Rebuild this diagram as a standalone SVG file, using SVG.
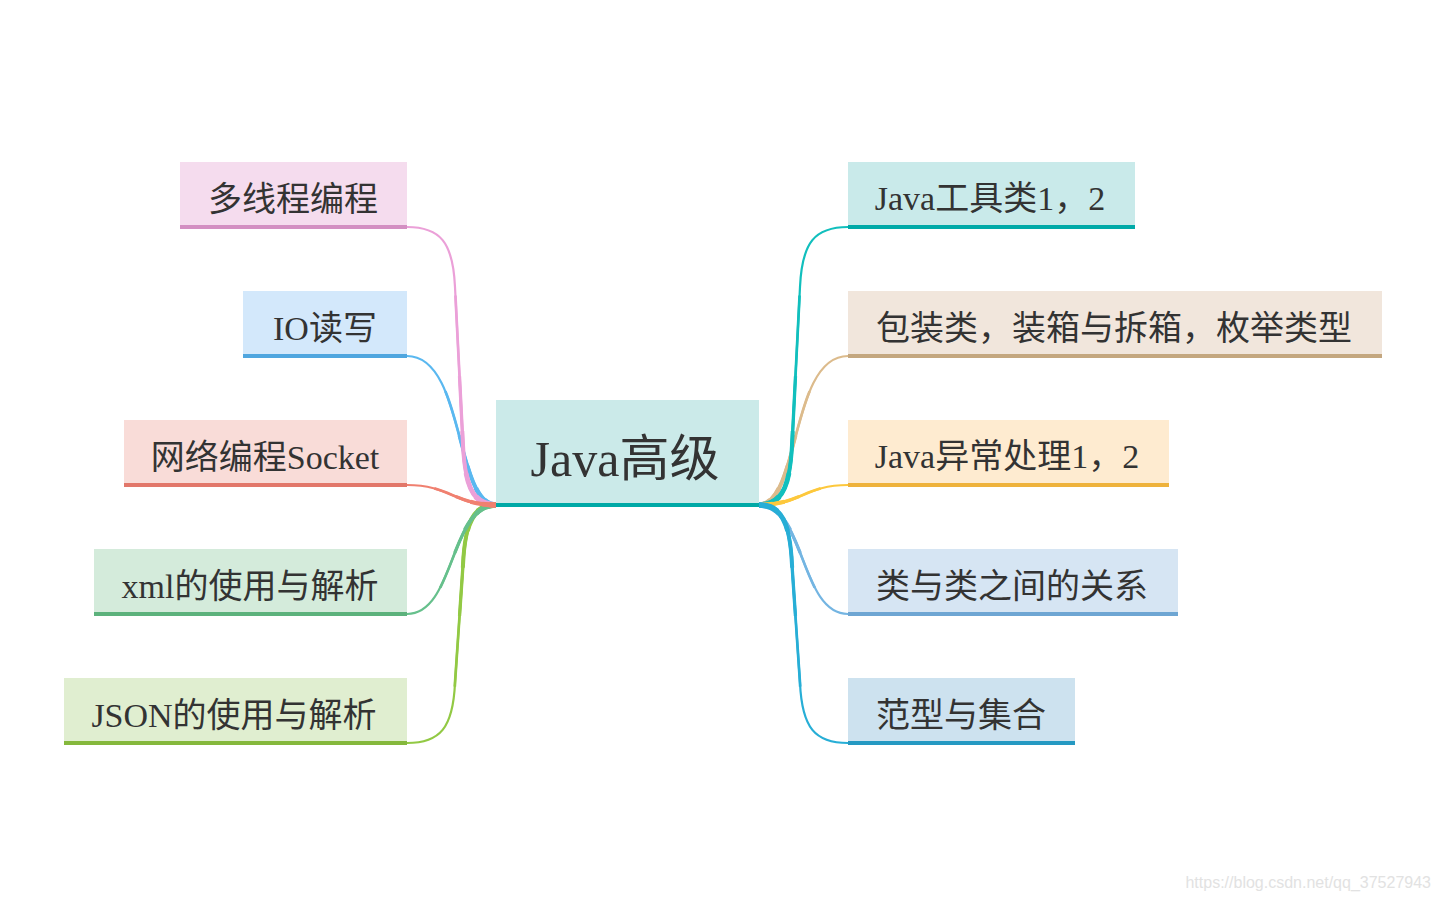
<svg xmlns="http://www.w3.org/2000/svg" width="1440" height="900" viewBox="0 0 1440 900">
<style>
  text { font-family: "Liberation Serif", "Noto Sans CJK SC", serif; fill: #333333; text-anchor: middle; }
  .t { font-size: 34px; }
  .tc { font-size: 50px; }
  .wm { font-family: "Liberation Sans", Arial, sans-serif; font-size: 16px; fill: #e2e2e2; text-anchor: end; }
  .cn { fill: none; stroke-linecap: butt; }
  .w1 { stroke-width: 2.2; }
  .w2 { stroke-width: 2.7; stroke-dasharray: 0 30 70 0; }
  .w3 { stroke-width: 3.3; stroke-dasharray: 0 55 45 0; }
  .w4 { stroke-width: 4; stroke-dasharray: 0 72 28 0; }
  .w5 { stroke-width: 4.8; stroke-dasharray: 0 85 15 0; }
  .w6 { stroke-width: 5.6; stroke-dasharray: 0 93 7 0; }
</style>
<defs>
  <path id="p1" pathLength="100" d="M407,227 C440,227 453,242 455,287 L463,445 C465,490 475,505 496,505"/>
  <path id="p2" pathLength="100" d="M407,356 C465,356 455,505 496,505"/>
  <path id="p3" pathLength="100" d="M407,485 C450,485 455,505 496,505"/>
  <path id="p4" pathLength="100" d="M407,614 C455,614 450,505 496,505"/>
  <path id="p5" pathLength="100" d="M407,743 C440,743 453,728 455,683 L463,565 C465,520 475,505 496,505"/>
  <g id="c1"><use href="#p1" class="w1"/><use href="#p1" class="w2"/><use href="#p1" class="w3"/><use href="#p1" class="w4"/><use href="#p1" class="w5"/><use href="#p1" class="w6"/></g>
  <g id="c2"><use href="#p2" class="w1"/><use href="#p2" class="w2"/><use href="#p2" class="w3"/><use href="#p2" class="w4"/><use href="#p2" class="w5"/><use href="#p2" class="w6"/></g>
  <g id="c3"><use href="#p3" class="w1"/><use href="#p3" class="w2"/><use href="#p3" class="w3"/><use href="#p3" class="w4"/><use href="#p3" class="w5"/><use href="#p3" class="w6"/></g>
  <g id="c4"><use href="#p4" class="w1"/><use href="#p4" class="w2"/><use href="#p4" class="w3"/><use href="#p4" class="w4"/><use href="#p4" class="w5"/><use href="#p4" class="w6"/></g>
  <g id="c5"><use href="#p5" class="w1"/><use href="#p5" class="w2"/><use href="#p5" class="w3"/><use href="#p5" class="w4"/><use href="#p5" class="w5"/><use href="#p5" class="w6"/></g>
</defs>
<rect width="1440" height="900" fill="#ffffff"/>

<g id="connectors" class="cn">
  <use href="#c2" stroke="#5ab8f0"/>
  <use href="#c1" stroke="#eba0d8"/>
  <use href="#c5" stroke="#92c944"/>
  <use href="#c4" stroke="#66c08c"/>
  <use href="#c3" stroke="#f08070"/>
  <g transform="matrix(-1 0 0 1 1255 0)">
    <use href="#c2" stroke="#dcbb8c"/>
    <use href="#c1" stroke="#11bfbd"/>
    <use href="#c3" stroke="#fdc83c"/>
    <use href="#c4" stroke="#74b5e2"/>
    <use href="#c5" stroke="#27aed6"/>
  </g>
</g>

<g id="center">
  <rect x="496" y="400" width="263" height="105" fill="#cbeae9"/>
  <rect x="496" y="503" width="263" height="4" fill="#00a9a6"/>
  <text class="tc" x="625" y="476">Java高级</text>
</g>

<g id="n-duoxiancheng">
  <rect x="180" y="162" width="227" height="65" fill="#f5dcee"/>
  <rect x="180" y="225" width="227" height="4" fill="#d38fc2"/>
  <text class="t" x="293" y="211">多线程编程</text>
</g>
<g id="n-io">
  <rect x="243" y="291" width="164" height="65" fill="#d3e8fb"/>
  <rect x="243" y="354" width="164" height="4" fill="#4fa6df"/>
  <text class="t" x="325" y="340">IO读写</text>
</g>
<g id="n-socket">
  <rect x="124" y="420" width="283" height="65" fill="#f9dcd8"/>
  <rect x="124" y="483" width="283" height="4" fill="#e2776a"/>
  <text class="t" x="265" y="469">网络编程Socket</text>
</g>
<g id="n-xml">
  <rect x="94" y="549" width="313" height="65" fill="#d4ebdb"/>
  <rect x="94" y="612" width="313" height="4" fill="#5cb27c"/>
  <text class="t" x="250" y="598">xml的使用与解析</text>
</g>
<g id="n-json">
  <rect x="64" y="678" width="343" height="65" fill="#e0eed0"/>
  <rect x="64" y="741" width="343" height="4" fill="#85b83c"/>
  <text class="t" x="234" y="727">JSON的使用与解析</text>
</g>

<g id="n-tools">
  <rect x="848" y="162" width="287" height="65" fill="#c9eaea"/>
  <rect x="848" y="225" width="287" height="4" fill="#00aaa8"/>
  <text class="t" x="990" y="210">Java工具类1，2</text>
</g>
<g id="n-wrapper">
  <rect x="848" y="291" width="534" height="65" fill="#f1e6dc"/>
  <rect x="848" y="354" width="534" height="4" fill="#c4a77f"/>
  <text class="t" x="1114" y="340">包装类，装箱与拆箱，枚举类型</text>
</g>
<g id="n-exception">
  <rect x="848" y="420" width="321" height="65" fill="#feebd0"/>
  <rect x="848" y="483" width="321" height="4" fill="#eeb23c"/>
  <text class="t" x="1007" y="468">Java异常处理1，2</text>
</g>
<g id="n-relation">
  <rect x="848" y="549" width="330" height="65" fill="#d6e5f3"/>
  <rect x="848" y="612" width="330" height="4" fill="#6ea6d3"/>
  <text class="t" x="1012" y="598">类与类之间的关系</text>
</g>
<g id="n-generic">
  <rect x="848" y="678" width="227" height="65" fill="#cde2ef"/>
  <rect x="848" y="741" width="227" height="4" fill="#2599c2"/>
  <text class="t" x="961" y="727">范型与集合</text>
</g>

<text class="wm" x="1431" y="888">https://blog.csdn.net/qq_37527943</text>
</svg>
